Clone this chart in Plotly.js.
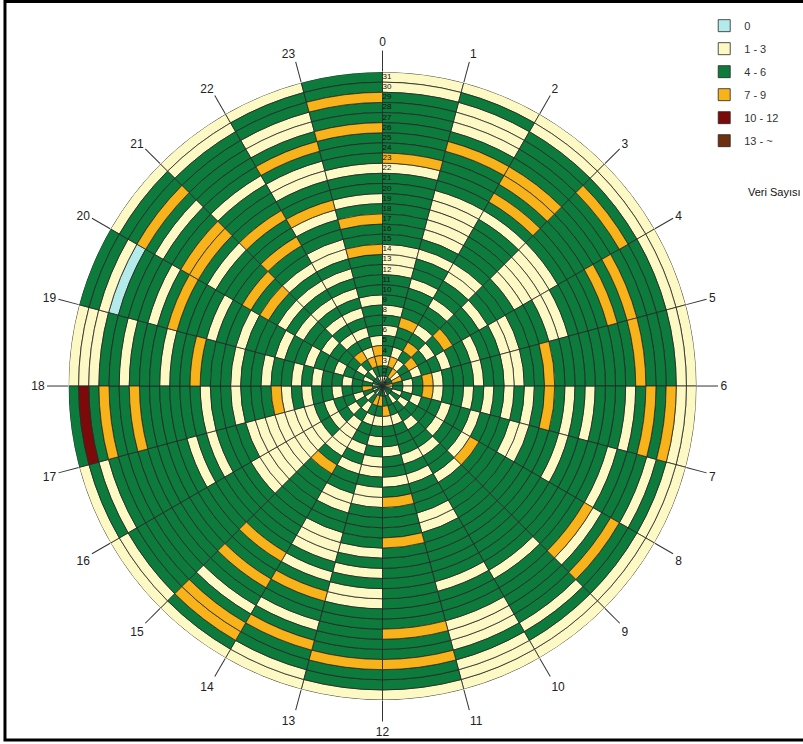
<!DOCTYPE html>
<html>
<head>
<meta charset="utf-8">
<script src="https://cdn.plot.ly/plotly-3.0.1.min.js"></script>
<style>
html,body{margin:0;padding:0;background:#fff;}
#chart{width:803px;height:744px;}
</style>
</head>
<body>
<div id="chart"></div>
<script>
// Hour sectors (clockwise from top) and day rings (inner = 1, outer = 31)
const hourLabels = ['0','1','2','3','4','5','6','7','8','9','10','11','12','13','14','15','16','17','18','19','20','21','22','23'];
const dayLabels = [1,2,3,4,5,6,7,8,9,10,11,12,13,14,15,16,17,18,19,20,21,22,23,24,25,26,27,28,29,30,31];

// Category legend
const categoryCodes  = ['C','Y','G','O','R','B'];
const categoryNames  = ['0','1 - 3','4 - 6','7 - 9','10 - 12','13 - ~'];
const categoryColors = ['#b3ebea','#fdf9c4','#0c7b3c','#f8b31a','#7d0a0a','#6e300d'];

// One string per hour sector; characters run from day 31 (outer ring) to day 1 (centre)
const cellsByHour = [
  'YYGGGGGGOYGGGGGGGYYYGGGYGYGGYGY', // 0
  'YGYYYGOGGGGYYYYYGYGGYGGGOGGYOGY', // 1
  'YYGGGGOOGOGYGGGGGYYGGYGGYGOGYOG', // 2
  'YYGOGGGGGGGYYYYYGGGYGGGOGYGOGYG', // 3
  'YYGGGOGOGGGGYYGGGYYGGYGGYGGYGOG', // 4
  'YYGGGOGGGGGGGGOGGYYGGYGGGYOGYGO', // 5
  'YYOGOGYGGGYGYGOGYGYGYGYGGYOGYGY', // 6
  'YYGYGGGYGGGGYGGGYYGGGYGGYGGYGYG', // 7
  'YYGGOGYOGGGGGGGGGGGGOYGGYGGGYGG', // 8
  'YYGYGGGGGYGGGGGGGGGGYGGYGGYGGYG', // 9
  'YYYGYYYGGGYGGGGGYYGGGYGYGGGYGGY', // 10
  'YGGOGGOGGGGGGGGOGGGOGYGGYGGYOGG', // 11
  'YGGOGGGGGYYGYGYGGGGYYGYYGYGYGOG', // 12
  'YYGGOGYGGOGYGYYYGGYYGGYGYGGYGOG', // 13
  'YGOOGYGGOGGOGGGGGGGGGOGYYYYGYGY', // 14
  'YYGGGGGGGGGGGGGGYYYYYYYYGYGYGYG', // 15
  'YGYGGGGGGGGYGYGGGYYYYYYYGYGGYGY', // 16
  'GRGOGGOGGGGGGYGGYGGGOYGYGGYGGOG', // 17
  'YYYGGYGGGYGGOGGGYGGYGGYGYGGYGGY', // 18
  'GGYCGGGYGOGGGYGGYGGGYGGYGGYGGYG', // 19
  'YGGOGYGGOOGYGGGOGOGYGYGGYGGGYGG', // 20
  'YYGGGGGYGGGOGGOGGYGYGYGYGYGOGYG', // 21
  'YGGYYGOGYYGGOYGGYYGYGYGYGYGYOGY', // 22
  'GGOGGOGGGYGGYGOGGOGGGGYGGGYOOGY'  // 23
];

const SECTOR = 360 / hourLabels.length;
const nDays = dayLabels.length;

const traces = categoryCodes.map((code, ci) => {
  const theta = [], r = [], base = [], hover = [];
  cellsByHour.forEach((row, h) => {
    for (let i = 0; i < row.length; i++) {
      if (row[i] !== code) continue;
      const day = dayLabels[nDays - 1 - i];
      theta.push(h * SECTOR + SECTOR / 2);
      base.push(day - 1);
      r.push(1);
      hover.push('Saat ' + hourLabels[h] + ', Gün ' + day + ': ' + categoryNames[ci]);
    }
  });
  if (theta.length === 0) { theta.push(null); r.push(null); base.push(null); hover.push(''); }
  return {
    type: 'barpolar',
    name: categoryNames[ci],
    legendgroup: 'g' + ci,
    theta: theta, r: r, base: base,
    width: SECTOR,
    text: hover, hoverinfo: 'text',
    marker: {color: categoryColors[ci], line: {color: '#262626', width: 0.8}},
    showlegend: true
  };
});

// Day numbers written along the 0 line
traces.push({
  type: 'scatterpolar',
  mode: 'text',
  r: dayLabels.map(d => d - 0.5),
  theta: dayLabels.map(() => 0),
  text: dayLabels.map(String),
  textposition: 'middle right',
  textfont: {family: 'Liberation Sans Narrow, Arial Narrow, sans-serif', size: 8, color: '#111'},
  hoverinfo: 'skip',
  showlegend: false
});

const layout = {
  width: 803, height: 744,
  margin: {l: 0, r: 0, t: 0, b: 0},
  paper_bgcolor: '#ffffff',
  plot_bgcolor: '#ffffff',
  showlegend: true,
  legend: {
    x: 0.877, y: 0.985, xanchor: 'left', yanchor: 'top',
    font: {family: 'Liberation Sans Narrow, Arial Narrow, sans-serif', size: 11, color: '#333'},
    bgcolor: 'rgba(0,0,0,0)',
    tracegroupgap: 4,
    traceorder: 'grouped'
  },
  polar: {
    domain: {x: [0.0853, 0.8674], y: [0.0591, 0.9032]},
    bgcolor: '#ffffff',
    radialaxis: {range: [0, nDays], visible: false},
    angularaxis: {
      rotation: 90,
      direction: 'clockwise',
      tickmode: 'array',
      tickvals: hourLabels.map((_, h) => h * SECTOR),
      ticktext: hourLabels,
      ticks: 'outside',
      ticklen: 21,
      tickwidth: 1,
      tickcolor: '#333',
      showgrid: false,
      showline: false,
      tickfont: {family: 'Liberation Sans Narrow, Arial Narrow, sans-serif', size: 12, color: '#222'}
    }
  },
  annotations: [{
    text: 'Veri Sayısı',
    xref: 'paper', yref: 'paper',
    x: 0.929, y: 0.742, xanchor: 'left', yanchor: 'middle',
    showarrow: false,
    font: {family: 'Liberation Sans, Arial, sans-serif', size: 11, color: '#111'}
  }],
  shapes: [{
    type: 'rect', xref: 'paper', yref: 'paper',
    x0: 0.0062, x1: 1.02, y0: 0.0054, y1: 0.998,
    line: {color: '#000', width: 3}
  }]
};

Plotly.newPlot('chart', traces, layout, {displayModeBar: false});
</script>
</body>
</html>
